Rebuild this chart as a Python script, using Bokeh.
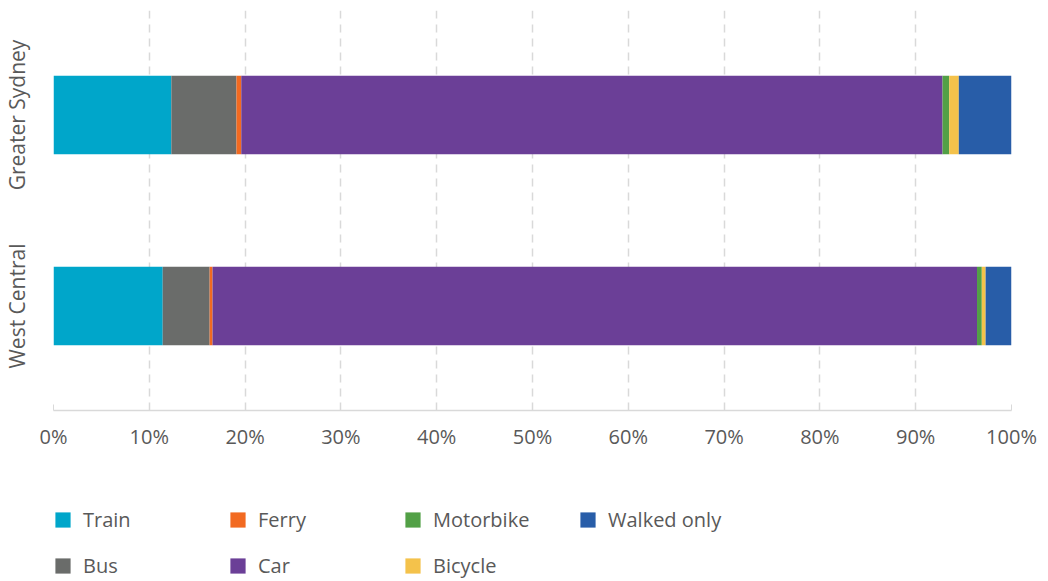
from bokeh.plotting import figure
from bokeh.layouts import column
from bokeh.models import (ColumnDataSource, FactorRange, Range1d, Legend, LegendItem,
                          FixedTicker, CustomJSTickFormatter)
from bokeh.embed import file_html
from bokeh.resources import INLINE

categories = ["Greater Sydney", "West Central"]
modes = ["Train", "Bus", "Ferry", "Car", "Motorbike", "Bicycle", "Walked only"]
greater_sydney = [12.3, 6.8, 0.5, 73.2, 0.7, 1.0, 5.5]
west_central = [11.4, 4.9, 0.3, 79.8, 0.5, 0.4, 2.7]
colors = ["#00a6ca", "#6a6c6a", "#f26a21", "#6b3f97", "#52a046", "#f4c24b", "#285da8"]
ticks = [0, 10, 20, 30, 40, 50, 60, 70, 80, 90, 100]
legend_order = ["Train", "Ferry", "Motorbike", "Walked only", "Bus", "Car", "Bicycle"]

FONT = "Open Sans"
TXT = "#595959"

data = {"category": categories}
for i, m in enumerate(modes):
    data[m] = [greater_sydney[i], west_central[i]]
src = ColumnDataSource(data)

# ---- main chart ----
p = figure(width=1040, height=476, output_backend="svg", toolbar_location=None,
           y_range=FactorRange(factors=categories[::-1], range_padding=0.047),
           x_range=Range1d(0, 100),
           min_border_left=44, min_border_right=29, min_border_top=10, min_border_bottom=66)
p.outline_line_color = None

rs = p.hbar_stack(modes, y="category", height=0.41, color=colors, source=src, line_width=0)

p.ygrid.grid_line_color = None
p.xgrid.grid_line_color = "#d9d9d9"
p.xgrid.grid_line_dash = "8 6"
p.xgrid.grid_line_width = 1.5
p.xaxis.ticker = FixedTicker(ticks=ticks)
p.xaxis.formatter = CustomJSTickFormatter(code="return tick + '%'")
p.xaxis.axis_line_color = "#d9d9d9"
p.xaxis.axis_line_width = 1.5
p.xaxis.major_tick_line_color = "#d9d9d9"
p.xaxis.major_tick_in = 6
p.xaxis.major_tick_out = 0
p.xaxis.minor_tick_line_color = None
p.xaxis.major_label_text_font = FONT
p.xaxis.major_label_text_font_size = "20px"
p.xaxis.major_label_text_color = TXT
p.xaxis.major_label_standoff = 12

p.yaxis.axis_line_color = None
p.yaxis.major_tick_line_color = None
p.yaxis.minor_tick_line_color = None
p.yaxis.major_label_orientation = "vertical"
p.yaxis.major_label_text_font = FONT
p.yaxis.major_label_text_font_size = "21px"
p.yaxis.major_label_text_color = TXT
p.yaxis.major_label_standoff = 16

# ---- legend strip: same series on a range without these categories (nothing drawn) ----
lf = figure(width=1040, height=105, output_backend="svg", toolbar_location=None,
            y_range=FactorRange(factors=["legend"]), x_range=Range1d(0, 100),
            x_axis_location=None, y_axis_location=None,
            min_border_left=0, min_border_right=0, min_border_top=0, min_border_bottom=0)
lf.outline_line_color = None
lf.grid.grid_line_color = None
lrs = lf.hbar_stack(modes, y="category", height=0.41, color=colors, source=src, line_width=0)

items = [LegendItem(label=m, renderers=[lrs[modes.index(m)]]) for m in legend_order]
legend = Legend(items=items, location=(0, 2), orientation="horizontal", ncols=4,
                glyph_width=19, glyph_height=19, label_standoff=11, label_width=126,
                spacing=19, padding=0, margin=0, border_line_color=None,
                background_fill_alpha=0, label_text_font=FONT, label_text_font_size="20px",
                label_text_color=TXT, label_height=20)
lf.add_layout(legend, "center")

open("out.html", "w").write(file_html(column(p, lf), INLINE))
